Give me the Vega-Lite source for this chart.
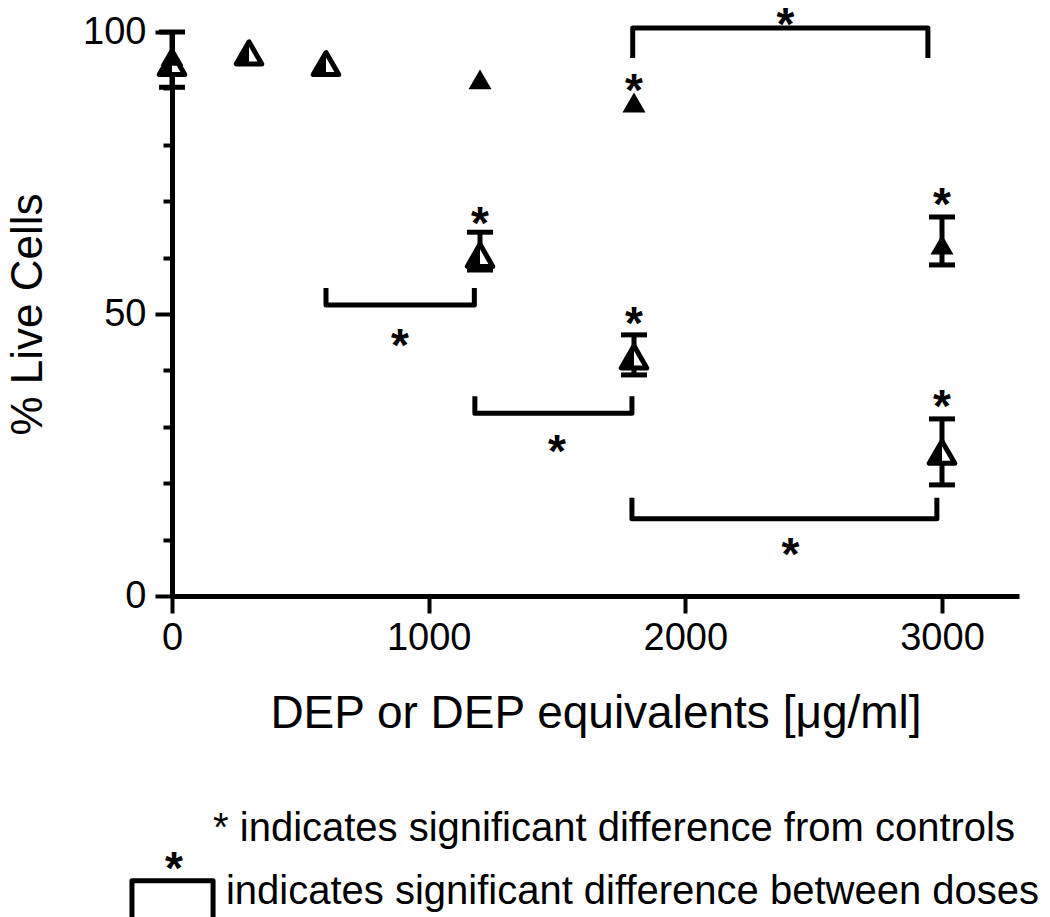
{
  "$schema": "https://vega.github.io/schema/vega-lite/v6.json",
  "width": 847,
  "height": 564,
  "autosize": {"type": "none"},
  "padding": {"left": 172, "top": 32, "right": 31, "bottom": 321},
  "background": "white",
  "config": {
    "view": {"stroke": null},
    "font": "Liberation Sans",
    "axis": {
      "grid": false,
      "domainColor": "black",
      "domainWidth": 5,
      "tickColor": "black",
      "tickWidth": 4,
      "labelColor": "black",
      "titleColor": "black",
      "labelFont": "Liberation Sans",
      "titleFont": "Liberation Sans",
      "titleFontWeight": "normal",
      "labelFlush": false,
      "labelOverlap": false
    }
  },
  "datasets": {
    "points": [
      {"dose": 0, "pct": 95.8, "grp": "DEP"},
      {"dose": 1200, "pct": 91.6, "grp": "DEP"},
      {"dose": 1800, "pct": 87.5, "grp": "DEP"},
      {"dose": 3000, "pct": 62.3, "grp": "DEP"}
    ],
    "openpoints": [
      {"dose": 0, "pct": 94.4, "grp": "DEP equivalents"},
      {"dose": 300, "pct": 96.3, "grp": "DEP equivalents"},
      {"dose": 600, "pct": 94.4, "grp": "DEP equivalents"},
      {"dose": 1200, "pct": 60.4, "grp": "DEP equivalents"},
      {"dose": 1800, "pct": 42.4, "grp": "DEP equivalents"},
      {"dose": 3000, "pct": 25.5, "grp": "DEP equivalents"}
    ],
    "errors": [
      {"dose": 0, "pct": 90.2, "pct2": 100},
      {"dose": 3000, "pct": 58.7, "pct2": 67.2},
      {"dose": 1200, "pct": 57.8, "pct2": 64.5},
      {"dose": 1800, "pct": 39.2, "pct2": 46.3},
      {"dose": 3000, "pct": 19.7, "pct2": 31.4}
    ],
    "caps": [
      {"dose": 0, "pct": 90.2}, {"dose": 0, "pct": 100},
      {"dose": 3000, "pct": 58.7}, {"dose": 3000, "pct": 67.2},
      {"dose": 1200, "pct": 57.8}, {"dose": 1200, "pct": 64.5},
      {"dose": 1800, "pct": 39.2}, {"dose": 1800, "pct": 46.3},
      {"dose": 3000, "pct": 19.7}, {"dose": 3000, "pct": 31.4}
    ],
    "brackets": [
      {"id": "b1", "ord": 1, "dose": 600, "pct": 54.6},
      {"id": "b1", "ord": 2, "dose": 600, "pct": 51.6},
      {"id": "b1", "ord": 3, "dose": 1178, "pct": 51.6},
      {"id": "b1", "ord": 4, "dose": 1178, "pct": 54.6},
      {"id": "b2", "ord": 1, "dose": 1180, "pct": 35.4},
      {"id": "b2", "ord": 2, "dose": 1180, "pct": 32.4},
      {"id": "b2", "ord": 3, "dose": 1792, "pct": 32.4},
      {"id": "b2", "ord": 4, "dose": 1792, "pct": 35.4},
      {"id": "b3", "ord": 1, "dose": 1792, "pct": 17.4},
      {"id": "b3", "ord": 2, "dose": 1792, "pct": 13.7},
      {"id": "b3", "ord": 3, "dose": 2980, "pct": 13.7},
      {"id": "b3", "ord": 4, "dose": 2980, "pct": 17.4},
      {"id": "b4", "ord": 1, "dose": 1795, "pct": 95.4},
      {"id": "b4", "ord": 2, "dose": 1795, "pct": 100.7},
      {"id": "b4", "ord": 3, "dose": 2945, "pct": 100.7},
      {"id": "b4", "ord": 4, "dose": 2945, "pct": 95.4},
      {"id": "key", "ord": 1, "dose": -156, "pct": -57.5},
      {"id": "key", "ord": 2, "dose": -156, "pct": -50.5},
      {"id": "key", "ord": 3, "dose": 160, "pct": -50.5},
      {"id": "key", "ord": 4, "dose": 160, "pct": -57.5}
    ],
    "stars": [
      {"dose": 1800, "pct": 89.45, "txt": "*"},
      {"dose": 1200, "pct": 65.75, "txt": "*"},
      {"dose": 1800, "pct": 48.05, "txt": "*"},
      {"dose": 3000, "pct": 69.15, "txt": "*"},
      {"dose": 3000, "pct": 33.25, "txt": "*"},
      {"dose": 888, "pct": 44.15, "txt": "*"},
      {"dose": 1500, "pct": 25.35, "txt": "*"},
      {"dose": 2410, "pct": 7.05, "txt": "*"},
      {"dose": 2390, "pct": 101.05, "txt": "*"},
      {"dose": 8, "pct": -48.65, "txt": "*"}
    ],
    "notes": [
      {"dose": 160, "pct": -41.3, "txt": "* indicates significant difference from controls"},
      {"dose": 210, "pct": -52.5, "txt": "indicates significant difference between doses"}
    ]
  },
  "encoding": {
    "x": {
      "field": "dose",
      "type": "quantitative",
      "scale": {"domain": [0, 3300], "nice": false, "zero": false},
      "axis": {
        "title": "DEP or DEP equivalents [μg/ml]",
        "values": [0, 1000, 2000, 3000],
        "format": "d",
        "tickSize": 17,
        "labelPadding": 6,
        "labelFontSize": 38,
        "titleFontSize": 46,
        "titlePadding": 34
      }
    },
    "y": {
      "field": "pct",
      "type": "quantitative",
      "scale": {"domain": [0, 100], "nice": false, "zero": false},
      "axis": {
        "title": "% Live Cells",
        "values": [0, 10, 20, 30, 40, 50, 60, 70, 80, 90, 100],
        "labelExpr": "datum.value % 50 === 0 ? datum.label : ''",
        "tickSize": {"condition": {"test": "datum.value % 50 === 0", "value": 17}, "value": 9},
        "labelPadding": 9,
        "labelFontSize": 38,
        "titleFontSize": 44,
        "titlePadding": 32
      }
    }
  },
  "layer": [
    {
      "data": {"name": "brackets"},
      "mark": {"type": "line", "color": "black", "strokeWidth": 5, "strokeJoin": "round", "strokeCap": "butt"},
      "encoding": {
        "detail": {"field": "id", "type": "nominal"},
        "order": {"field": "ord", "type": "quantitative"}
      }
    },
    {
      "data": {"name": "errors"},
      "mark": {"type": "rule", "color": "black", "strokeWidth": 5},
      "encoding": {"y2": {"field": "pct2"}}
    },
    {
      "data": {"name": "caps"},
      "mark": {"type": "tick", "color": "black", "orient": "horizontal", "size": 26, "thickness": 5, "opacity": 1},
      "encoding": {}
    },
    {
      "data": {"name": "openpoints"},
      "mark": {"type": "point", "shape": "triangle-up", "filled": false, "fill": "white", "fillOpacity": 1, "stroke": "black", "strokeWidth": 5, "strokeJoin": "round", "size": 650, "opacity": 1},
      "encoding": {}
    },
    {
      "data": {"name": "openpoints"},
      "mark": {"type": "point", "shape": "M0,-0.866L-1,0.866L0,0.866Z", "filled": true, "color": "black", "size": 650, "opacity": 1},
      "encoding": {}
    },
    {
      "data": {"name": "points"},
      "mark": {"type": "point", "shape": "triangle-up", "filled": true, "color": "black", "size": 530, "opacity": 1},
      "encoding": {}
    },
    {
      "data": {"name": "stars"},
      "mark": {"type": "text", "font": "Liberation Sans", "fontSize": 46, "fontWeight": "bold", "align": "center", "baseline": "middle", "color": "black"},
      "encoding": {"text": {"field": "txt"}}
    },
    {
      "data": {"name": "notes"},
      "mark": {"type": "text", "font": "Liberation Sans", "fontSize": 40, "align": "left", "baseline": "middle", "color": "black"},
      "encoding": {"text": {"field": "txt"}}
    }
  ]
}
